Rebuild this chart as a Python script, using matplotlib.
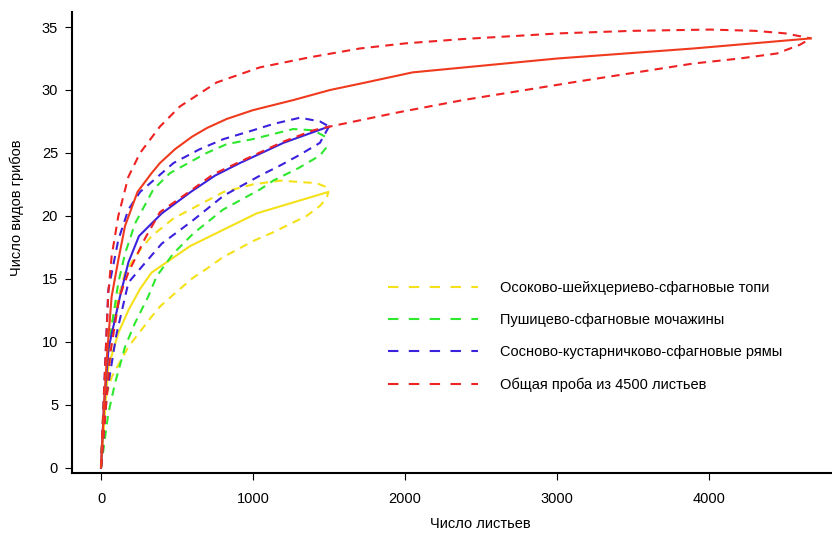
import matplotlib
matplotlib.use('Agg')
import matplotlib.pyplot as plt
from matplotlib.lines import Line2D

plt.rcParams['font.family'] = ['Liberation Sans', 'DejaVu Sans']

# species accumulation curves
# Осоково-шейхцериево-сфагновые топи (yellow)
yel_x = [0, 48, 114, 180, 257, 333, 586, 1024, 1495]
yel_mean = [0, 8.0, 10.7, 12.5, 14.2, 15.5, 17.6, 20.2, 21.9]
yel_up_x = [0, 20, 70, 158, 257, 333, 477, 806, 1000, 1178, 1419, 1480, 1495]
yel_up = [0, 5.0, 11.5, 15.5, 17.3, 18.4, 19.8, 21.9, 22.5, 22.8, 22.6, 22.3, 21.9]
yel_lo_x = [0, 15, 70, 180, 333, 388, 500, 607, 695, 800, 1000, 1133, 1353, 1441, 1485, 1495]
yel_lo = [0, 4.8, 7.2, 9.6, 12.0, 12.8, 14.0, 15.1, 15.8, 16.7, 18.0, 18.7, 20.0, 20.8, 21.4, 21.9]

# Пушицево-сфагновые мочажины (green)
grn_up_x = [0, 30, 114, 158, 224, 344, 454, 695, 827, 1000, 1133, 1265, 1397, 1474, 1490]
grn_up = [0, 8.0, 14.7, 17.0, 19.4, 22.1, 23.4, 25.0, 25.7, 26.1, 26.5, 26.9, 26.8, 26.3, 25.9]
grn_lo_x = [0, 48, 92, 158, 224, 311, 366, 475, 607, 803, 1046, 1133, 1300, 1441, 1480, 1490]
grn_lo = [0, 4.3, 6.7, 9.6, 11.5, 13.6, 15.2, 17.0, 18.6, 20.5, 22.1, 22.8, 23.8, 24.8, 25.4, 25.9]

# Сосново-кустарничково-сфагновые рямы (blue)
blu_x = [0, 20, 50, 125, 180, 250, 400, 590, 750, 914, 1200, 1500]
blu_mean = [0, 5.0, 9.5, 13.6, 16.3, 18.4, 20.2, 21.9, 23.2, 24.2, 25.8, 27.1]
blu_up_x = [0, 20, 48, 114, 180, 257, 477, 650, 806, 1000, 1133, 1309, 1441, 1500]
blu_up = [0, 6.0, 14.1, 18.1, 20.5, 21.9, 24.2, 25.3, 26.1, 26.8, 27.3, 27.8, 27.5, 27.1]
blu_lo_x = [0, 40, 100, 180, 257, 400, 600, 806, 1046, 1178, 1300, 1440, 1500]
blu_lo = [0, 6.0, 10.5, 14.7, 15.8, 17.8, 19.6, 21.6, 23.2, 24.0, 24.8, 25.8, 27.1]

# Общая проба из 4500 листьев (red)
red_x = [0, 20, 40, 70, 114, 158, 240, 333, 388, 487, 600, 700, 827, 1000, 1265, 1507, 1704, 2050, 3000, 3900, 4670]
red_mean = [0, 5.0, 9.0, 13.6, 16.5, 19.2, 21.9, 23.4, 24.2, 25.3, 26.3, 27.0, 27.7, 28.4, 29.2, 30.0, 30.5, 31.4, 32.5, 33.3, 34.1]
red_up_x = [0, 20, 48, 70, 114, 180, 257, 388, 520, 761, 1046, 1375, 1704, 2000, 2382, 3020, 3500, 4007, 4300, 4500, 4670]
red_up = [0, 6.0, 13.9, 16.8, 20.0, 23.1, 25.0, 27.1, 28.7, 30.6, 31.8, 32.6, 33.3, 33.7, 34.05, 34.5, 34.7, 34.8, 34.7, 34.5, 34.1]
red_lo_x = [0, 60, 120, 180, 289, 388, 590, 738, 914, 1200, 1397, 1507, 1945, 2382, 3151, 3895, 4200, 4447, 4599, 4670]
red_lo = [0, 9.0, 13.5, 15.5, 18.2, 20.3, 22.0, 23.3, 24.3, 25.9, 26.8, 27.1, 28.2, 29.2, 30.7, 32.1, 32.5, 32.9, 33.6, 34.1]

labels = ['Осоково-шейхцериево-сфагновые топи',
          'Пушицево-сфагновые мочажины',
          'Сосново-кустарничково-сфагновые рямы',
          'Общая проба из 4500 листьев']
colors = ['#f5e11a', '#2ee82e', '#3a22dd', '#ee2222']
red_solid = '#f03a1e'

fig = plt.figure(figsize=(8.32, 5.33), dpi=100)
ax = fig.add_axes([0.0865, 0.1126, 0.9135, 0.865])

dash = dict(linestyle=(0, (4, 3)), linewidth=1.5)
solid = dict(linestyle='-', linewidth=1.5)

ax.plot(yel_up_x, yel_up, color=colors[0], **dash)
ax.plot(yel_lo_x, yel_lo, color=colors[0], **dash)
ax.plot(yel_x, yel_mean, color=colors[0], **solid)

ax.plot(grn_up_x, grn_up, color=colors[1], **dash)
ax.plot(grn_lo_x, grn_lo, color=colors[1], **dash)

ax.plot(blu_up_x, blu_up, color=colors[2], **dash)
ax.plot(blu_lo_x, blu_lo, color=colors[2], **dash)
ax.plot(blu_x, blu_mean, color=colors[2], **solid)

ax.plot(red_up_x, red_up, color=colors[3], **dash)
ax.plot(red_lo_x, red_lo, color=colors[3], **dash)
ax.plot(red_x, red_mean, color=red_solid, **solid)

ax.set_xlim(-191, 4809)
ax.set_ylim(-0.42, 36.2)
ax.set_xticks([0, 1000, 2000, 3000, 4000])
ax.set_yticks([0, 5, 10, 15, 20, 25, 30, 35])
ax.spines['top'].set_visible(False)
ax.spines['right'].set_visible(False)
ax.spines['left'].set_linewidth(1.5)
ax.spines['bottom'].set_linewidth(1.5)
ax.tick_params(axis='both', direction='out', length=5, width=0.8, labelsize=10.5)
ax.tick_params(axis='x', pad=9)
ax.tick_params(axis='y', pad=5)

fig.text(0.577, 1 - 524 / 533, 'Число листьев', ha='center', va='center', fontsize=10.5)
fig.text(0.012, 1 - 208 / 533, 'Число видов грибов', ha='left', va='center', rotation=90, fontsize=10.5)

# legend shows only the dashed style, as in the original
handles = [Line2D([], [], color=c, linestyle=(0, (5, 5)), linewidth=1.5) for c in colors]
ax.legend(handles, labels, loc='upper left', bbox_to_anchor=(388 / 832, 1 - 281 / 533),
          bbox_transform=fig.transFigure, frameon=False, fontsize=10.5,
          handlelength=6.2, handletextpad=1.5, labelspacing=1.25, borderpad=0, borderaxespad=0)

fig.savefig('out.png', dpi=100)
